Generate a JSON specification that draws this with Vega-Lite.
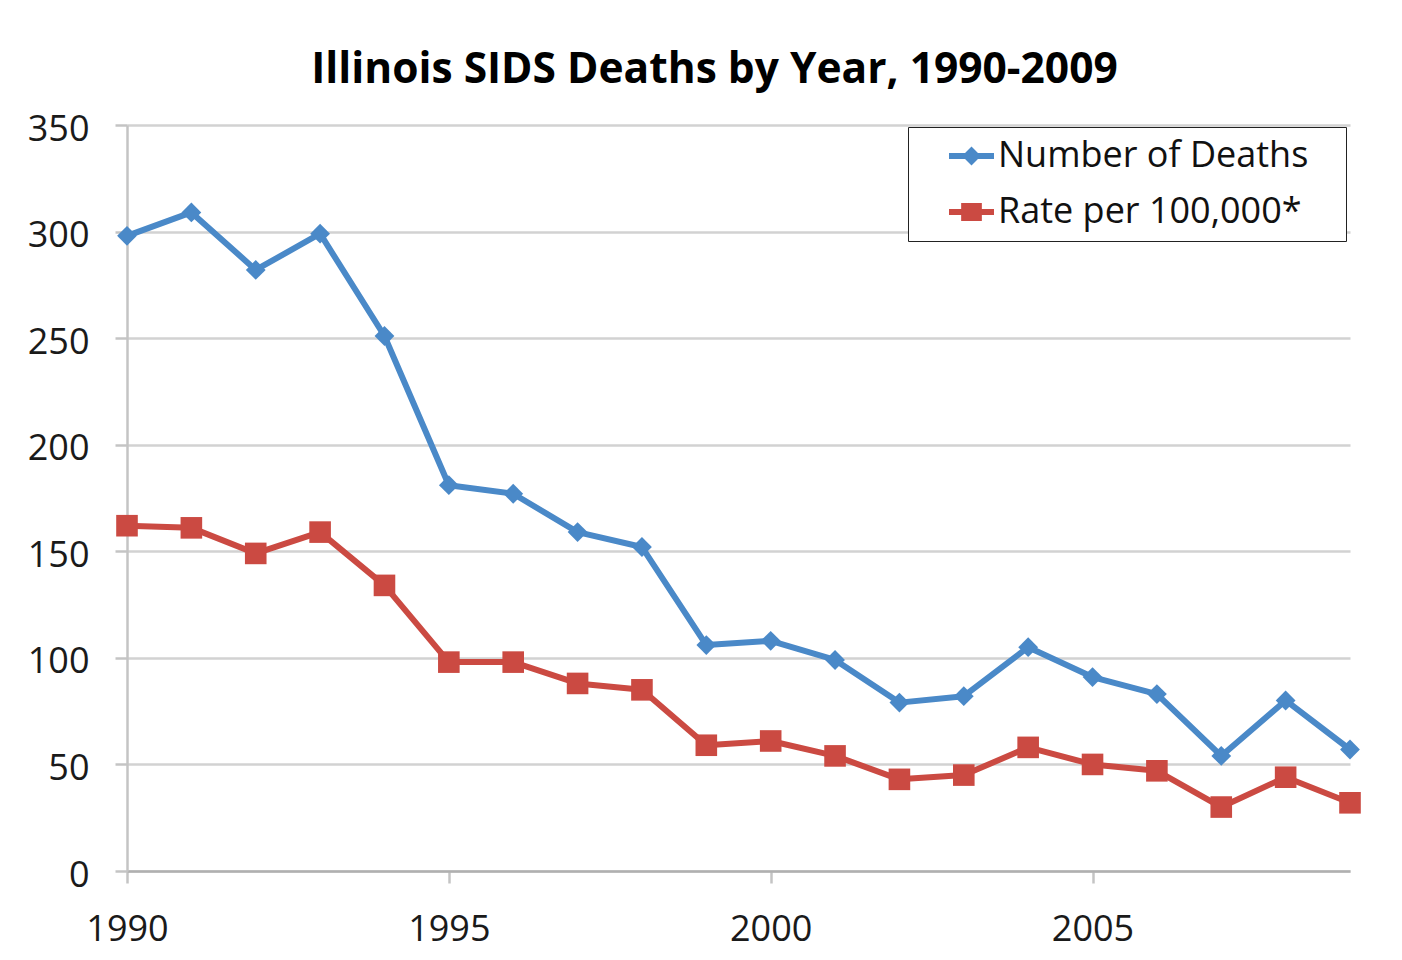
{
  "$schema": "https://vega.github.io/schema/vega-lite/v6.json",
  "width": 1223,
  "height": 746,
  "autosize": {"type": "none"},
  "padding": {"left": 127, "top": 125, "right": 52, "bottom": 89},
  "background": "white",
  "config": {"font": "Open Sans", "view": {"stroke": null}},
  "title": {
    "text": "Illinois SIDS Deaths by Year, 1990-2009",
    "fontSize": 42.5,
    "fontWeight": "bold",
    "color": "black",
    "anchor": "middle",
    "dx": -24,
    "offset": 20,
    "font": "Open Sans"
  },
  "data": {
    "values": [
      {"year": 1990, "series": "Number of Deaths", "value": 298},
      {"year": 1991, "series": "Number of Deaths", "value": 309},
      {"year": 1992, "series": "Number of Deaths", "value": 282},
      {"year": 1993, "series": "Number of Deaths", "value": 299},
      {"year": 1994, "series": "Number of Deaths", "value": 251},
      {"year": 1995, "series": "Number of Deaths", "value": 181},
      {"year": 1996, "series": "Number of Deaths", "value": 177},
      {"year": 1997, "series": "Number of Deaths", "value": 159},
      {"year": 1998, "series": "Number of Deaths", "value": 152},
      {"year": 1999, "series": "Number of Deaths", "value": 106},
      {"year": 2000, "series": "Number of Deaths", "value": 108},
      {"year": 2001, "series": "Number of Deaths", "value": 99},
      {"year": 2002, "series": "Number of Deaths", "value": 79},
      {"year": 2003, "series": "Number of Deaths", "value": 82},
      {"year": 2004, "series": "Number of Deaths", "value": 105},
      {"year": 2005, "series": "Number of Deaths", "value": 91},
      {"year": 2006, "series": "Number of Deaths", "value": 83},
      {"year": 2007, "series": "Number of Deaths", "value": 54},
      {"year": 2008, "series": "Number of Deaths", "value": 80},
      {"year": 2009, "series": "Number of Deaths", "value": 57},
      {"year": 1990, "series": "Rate per 100,000*", "value": 162},
      {"year": 1991, "series": "Rate per 100,000*", "value": 161},
      {"year": 1992, "series": "Rate per 100,000*", "value": 149},
      {"year": 1993, "series": "Rate per 100,000*", "value": 159},
      {"year": 1994, "series": "Rate per 100,000*", "value": 134},
      {"year": 1995, "series": "Rate per 100,000*", "value": 98},
      {"year": 1996, "series": "Rate per 100,000*", "value": 98},
      {"year": 1997, "series": "Rate per 100,000*", "value": 88},
      {"year": 1998, "series": "Rate per 100,000*", "value": 85},
      {"year": 1999, "series": "Rate per 100,000*", "value": 59},
      {"year": 2000, "series": "Rate per 100,000*", "value": 61},
      {"year": 2001, "series": "Rate per 100,000*", "value": 54},
      {"year": 2002, "series": "Rate per 100,000*", "value": 43},
      {"year": 2003, "series": "Rate per 100,000*", "value": 45},
      {"year": 2004, "series": "Rate per 100,000*", "value": 58},
      {"year": 2005, "series": "Rate per 100,000*", "value": 50},
      {"year": 2006, "series": "Rate per 100,000*", "value": 47},
      {"year": 2007, "series": "Rate per 100,000*", "value": 30},
      {"year": 2008, "series": "Rate per 100,000*", "value": 44},
      {"year": 2009, "series": "Rate per 100,000*", "value": 32}
    ]
  },
  "encoding": {
    "x": {
      "field": "year",
      "type": "quantitative",
      "scale": {"domain": [1990, 2009], "nice": false, "zero": false},
      "axis": {
        "title": null,
        "values": [1990, 1995, 2000, 2005],
        "format": "d",
        "grid": false,
        "labelFontSize": 36,
        "labelColor": "#1a1a1a",
        "labelPadding": 29,
        "tickSize": 12,
        "tickWidth": 2.5,
        "tickColor": "#c4c4c4",
        "domainColor": "#b0b0b0",
        "domainWidth": 2.5,
        "labelFlush": false
      }
    },
    "y": {
      "field": "value",
      "type": "quantitative",
      "scale": {"domain": [0, 350], "nice": false},
      "axis": {
        "title": null,
        "values": [0, 50, 100, 150, 200, 250, 300, 350],
        "grid": true,
        "gridColor": "#d2d2d2",
        "gridWidth": 2.5,
        "labelFontSize": 36,
        "labelColor": "#1a1a1a",
        "labelPadding": 26,
        "labelOffset": 4,
        "tickSize": 12,
        "tickWidth": 2.5,
        "tickColor": "#c4c4c4",
        "domainColor": "#c4c4c4",
        "domainWidth": 2.5
      }
    }
  },
  "resolve": {"scale": {"color": "independent", "shape": "independent"}},
  "layer": [
    {
      "mark": {"type": "line", "strokeWidth": 6, "strokeJoin": "round"},
      "encoding": {
        "detail": {"field": "series", "type": "nominal"},
        "color": {
          "condition": {"test": "datum.series === 'Number of Deaths'", "value": "#4a89c8"},
          "value": "#cb4a42"
        }
      }
    },
    {
      "mark": {"type": "point", "filled": true, "size": 2025, "opacity": 1},
      "encoding": {
        "color": {
          "field": "series",
          "type": "nominal",
          "scale": {"domain": ["Number of Deaths", "Rate per 100,000*"], "range": ["#4a89c8", "#cb4a42"]},
          "legend": null
        },
        "shape": {
          "field": "series",
          "type": "nominal",
          "scale": {
            "domain": ["Number of Deaths", "Rate per 100,000*"],
            "range": ["M0,-0.44L0.44,0L0,0.44L-0.44,0Z", "M-0.48,-0.48H0.48V0.48H-0.48Z"]
          },
          "legend": null
        }
      }
    },
    {
      "transform": [{"filter": "false"}],
      "mark": {"type": "point", "filled": true, "size": 2025, "opacity": 1},
      "encoding": {
        "color": {
          "field": "series",
          "type": "nominal",
          "scale": {"domain": ["Number of Deaths", "Rate per 100,000*"], "range": ["#4a89c8", "#cb4a42"]},
          "legend": {
            "title": null,
            "orient": "none",
            "legendX": 781,
            "legendY": 2,
            "strokeColor": "#222222",
            "fillColor": "white",
            "padding": 11,
            "symbolOffset": 29,
            "symbolSize": 2025,
            "clipHeight": 36,
            "rowPadding": 20,
            "labelFontSize": 36,
            "labelColor": "#111111",
            "labelOffset": 3,
            "labelLimit": 500,
            "labelExpr": "datum.label + '\u2800'"
          }
        },
        "shape": {
          "field": "series",
          "type": "nominal",
          "scale": {
            "domain": ["Number of Deaths", "Rate per 100,000*"],
            "range": ["M-1,-0.13H1V0.13H-1ZM0,-0.42L0.42,0L0,0.42L-0.42,0Z", "M-1,-0.13H1V0.13H-1ZM-0.46,-0.4H0.46V0.4H-0.46Z"]
          },
          "legend": {
            "title": null,
            "orient": "none",
            "legendX": 781,
            "legendY": 2,
            "strokeColor": "#222222",
            "fillColor": "white",
            "padding": 11,
            "symbolOffset": 29,
            "symbolSize": 2025,
            "clipHeight": 36,
            "rowPadding": 20,
            "labelFontSize": 36,
            "labelColor": "#111111",
            "labelOffset": 3,
            "labelLimit": 500,
            "labelExpr": "datum.label + '\u2800'"
          }
        }
      }
    }
  ]
}
